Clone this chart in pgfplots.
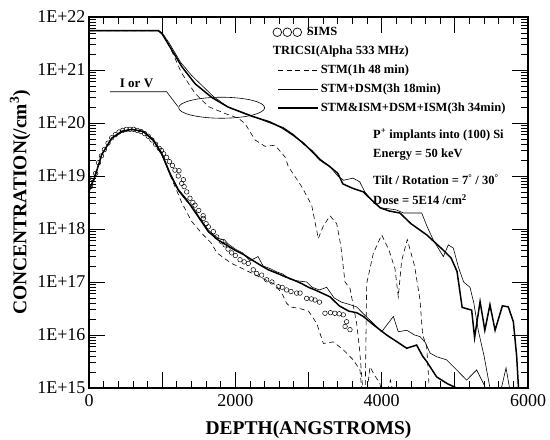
\documentclass[border=0pt]{standalone}
\usepackage{pgfplots}
\pgfplotsset{compat=1.18}
\usepackage{fontspec}
\setmainfont{Liberation Serif}
\pgfplotsset{
 linelegend/.style={legend image code/.code={\path (0pt,0pt) (45pt,0pt); \draw[##1] (5pt,0pt) -- (45pt,0pt);}},
 simslegend/.style={legend image code/.code={\path (0pt,0pt) (45pt,0pt); \draw[black, line width=0.7pt] (4.3pt,0pt) circle[radius=4.3pt] (14.3pt,0pt) circle[radius=4.3pt] (24.3pt,0pt) circle[radius=4.3pt];}},
}
\begin{document}
\begin{tikzpicture}
\begin{axis}[
 name=ax,
 scale only axis, width=439pt, height=371pt,
 xmin=0, xmax=6000, ymode=log, ymin=1e15, ymax=1e22,
 xtick={0,1000,2000,3000,4000,5000,6000},
 xticklabels={0,,2000,,4000,,6000},
 minor x tick num=4,
 ytick={1e15,1e16,1e17,1e18,1e19,1e20,1e21,1e22},
 yticklabels={1E+15,1E+16,1E+17,1E+18,1E+19,1E+20,1E+21,1E+22},
 major tick length=16pt, minor tick length=7pt,
 tick style={black, line width=0.8pt},
 ticklabel style={font=\fontsize{18}{18}\selectfont},
 xticklabel style={yshift=-3pt},
 xlabel={DEPTH(ANGSTROMS)},
 ylabel={CONCENTRATION(/cm\textsuperscript{3})},
 xlabel style={yshift=-7pt},
 label style={font=\fontsize{19.5}{19.5}\selectfont\bfseries},
 axis line style={line width=1.1pt},
 legend cell align=left,
 legend style={draw=none, fill=none, at={(0.417,0.981)}, anchor=north west,
   font=\fontsize{12.5}{14}\selectfont\bfseries, inner sep=0pt, row sep=3pt,
   nodes={text height=9pt, text depth=3pt, inner sep=2pt}},
]
% SIMS
\addplot[only marks, mark=o, mark size=2.3pt, mark options={line width=0.5pt, black}, simslegend]
 coordinates {
(20,6.31e18)(50,8.91e18)(90,1.12e19)(130,1.78e19)(170,2.40e19)(210,3.16e19)
(260,4.17e19)(310,5.25e19)(360,6.03e19)(410,6.76e19)(460,7.24e19)(510,7.59e19)
(560,7.59e19)(610,7.59e19)(660,7.24e19)(710,6.92e19)(760,6.31e19)(810,5.62e19)
(860,4.79e19)(910,3.98e19)(960,3.31e19)(990,3.02e19)(1020,2.63e19)(1060,2.24e19)
(1100,1.86e19)(1140,1.58e19)(1175,1.29e19)(1220,1.00e19)(1230,1.26e19)(1267,7.24e18)
(1290,8.50e18)(1300,6.31e18)(1335,5.01e18)(1380,3.80e18)(1420,3.16e18)(1449,2.82e18)
(1500,2.24e18)(1560,1.78e18)(1563,1.58e18)(1600,1.26e18)(1631,1.10e18)(1700,8.91e17)
(1745,7.08e17)(1813,5.75e17)(1860,5.01e17)(1900,4.17e17)(1950,3.55e17)(2000,3.16e17)
(2064,2.63e17)(2120,2.40e17)(2177,2.24e17)(2245,1.70e17)(2291,1.45e17)(2360,1.35e17)
(2428,1.10e17)(2500,1.00e17)(2588,8.13e16)(2640,7.94e16)(2701,7.08e16)(2760,6.61e16)
(2838,6.17e16)(2884,6.17e16)(2975,4.90e16)(3040,4.79e16)(3089,4.57e16)(3150,4.17e16)
(3225,2.57e16)(3300,2.63e16)(3360,2.57e16)(3420,2.51e16)(3476,2.40e16)(3521,1.78e16)
(3500,1.45e16)(3567,1.26e16)
};
\addlegendentry{\hspace*{-14pt}SIMS}
\addlegendimage{empty legend}
\addlegendentry{\hspace*{-48pt}TRICSI(Alpha 533 MHz)}
% STM dashed
\addplot[black, line width=0.6pt, dash pattern=on 5pt off 3.5pt, linelegend] coordinates {
(0,5.50e21)(950,5.50e21)(1000,5.01e21)(1084,3.16e21)(1267,8.71e20)(1449,3.63e20)
(1631,2.04e20)(1859,1.51e20)(2041,1.23e20)(2132,9.77e19)(2269,4.79e19)(2405,3.63e19)
(2542,3.80e19)(2679,2.29e19)(2724,1.51e19)(2907,6.31e18)(3043,2.82e18)(3134,6.61e17)
(3200,1.12e18)(3294,1.78e18)(3385,1.26e18)(3440,5.01e17)(3499,1.00e17)(3567,7.59e16)
(3658,1.66e16)(3700,5.01e15)(3740,1.00e15)(3770,2.00e14)(3795,9.33e16)(3886,3.47e17)
(4000,7.76e17)(4100,3.98e17)(4182,1.78e17)(4227,5.25e16)(4273,2.51e17)(4350,6.31e17)
(4450,2.00e17)(4524,4.57e16)(4560,1.00e16)(4615,6.03e15)(4650,1.00e15)(4670,1.00e14)
};
\addlegendentry{STM(1h 48 min)}
\addplot[black, line width=0.6pt, dash pattern=on 5pt off 3.5pt, forget plot] coordinates {
(0,5.01e18)(173,2.51e19)(310,5.13e19)(447,6.92e19)(583,7.59e19)(743,6.92e19)
(879,4.79e19)(993,2.69e19)(1107,1.05e19)(1200,5.25e18)(1267,3.16e18)(1400,1.41e18)
(1540,8.32e17)(1667,5.50e17)(1750,3.55e17)(1845,2.82e17)(1950,2.24e17)(2100,1.78e17)
(2250,1.41e17)(2400,1.12e17)(2550,8.91e16)(2650,5.62e16)(2700,3.98e16)(2750,3.39e16)
(2880,3.16e16)(3000,2.82e16)(3112,1.66e16)(3203,6.92e15)(3339,7.41e15)(3476,5.25e15)
(3612,3.39e15)(3703,2.19e15)(3726,1.00e15)(3740,3.16e14)
};
\addplot[black, line width=0.6pt, dash pattern=on 5pt off 3.5pt, forget plot] coordinates {
(3790,6.31e14)(3840,2.51e15)(3900,1.78e15)(3977,1.20e15)(4000,7.94e14)
};
\addplot[black, line width=0.6pt, dash pattern=on 5pt off 3.5pt, forget plot] coordinates {
(4080,8.91e14)(4120,1.41e15)(4150,8.91e14)
};
% STM+DSM thin
\addplot[black, line width=0.6pt, linelegend] coordinates {
(0,5.50e21)(950,5.50e21)(1000,5.01e21)(1100,3.16e21)(1250,1.41e21)(1400,7.94e20)
(1550,5.01e20)(1700,3.16e20)(1900,2.00e20)(2220,1.38e20)(2470,1.00e20)(2650,8.32e19)
(2800,6.03e19)(2930,3.98e19)(3050,3.02e19)(3160,2.09e19)(3290,1.51e19)(3400,1.00e19)
(3480,8.32e18)(3610,9.12e18)(3700,7.76e18)(3770,5.01e18)(3860,3.55e18)(3980,2.51e18)
(4100,2.40e18)(4200,2.29e18)(4300,2.00e18)(4433,2.00e18)(4547,2.00e18)(4620,1.12e18)
(4706,6.17e17)(4843,3.02e17)(4911,5.01e17)(4979,4.37e17)(5047,1.95e17)(5120,1.00e17)
(5207,7.94e16)(5260,3.98e16)(5320,1.23e16)(5400,3.98e15)(5480,1.00e15)(5500,3.16e14)
};
\addlegendentry{STM+DSM(3h 18min)}
\addplot[black, line width=0.6pt, forget plot] coordinates {
(0,5.25e18)(82,1.00e19)(173,2.51e19)(310,5.25e19)(447,7.08e19)(583,7.59e19)
(743,6.76e19)(879,4.57e19)(993,2.51e19)(1107,1.05e19)(1221,5.25e18)(1335,3.31e18)
(1430,2.51e18)(1494,1.78e18)(1631,9.55e17)(1767,6.61e17)(1850,6.31e17)(1900,5.25e17)
(2000,4.17e17)(2100,3.55e17)(2200,2.51e17)(2310,3.02e17)(2380,2.00e17)(2480,1.78e17)
(2565,1.55e17)(2650,1.41e17)(2750,1.12e17)(2850,1.05e17)(2975,1.00e17)(3050,7.94e16)
(3150,7.08e16)(3248,7.94e16)(3350,5.01e16)(3450,4.17e16)(3550,3.80e16)(3658,3.39e16)
(3750,2.51e16)(3840,1.91e16)(4000,1.15e16)(4160,2.24e16)(4227,1.15e16)(4342,1.23e16)
(4450,1.00e16)(4524,9.33e15)(4600,7.08e15)(4660,4.57e15)(4751,3.89e15)(4888,3.39e15)
(5025,2.19e15)(5161,1.41e15)(5298,2.19e15)(5389,1.23e15)(5450,7.94e14)
};
\addplot[black, line width=0.6pt, forget plot] coordinates {
(5620,7.94e14)(5700,2.40e15)(5760,7.94e14)
};
% STM&ISM+DSM+ISM thick
\addplot[black, line width=1.5pt, linelegend] coordinates {
(0,5.50e21)(950,5.50e21)(1000,4.79e21)(1100,2.82e21)(1270,1.15e21)(1450,5.50e20)
(1680,3.02e20)(1900,2.00e20)(2220,1.35e20)(2470,1.05e20)(2650,7.94e19)(2800,5.75e19)
(2930,4.17e19)(3050,2.88e19)(3160,2.00e19)(3290,1.51e19)(3400,1.12e19)(3470,7.08e18)
(3600,5.89e18)(3750,5.01e18)(3860,3.55e18)(3980,2.51e18)(4100,2.19e18)(4250,2.00e18)
(4400,1.26e18)(4615,7.76e17)(4843,3.98e17)(4950,2.82e17)(5030,1.58e17)(5100,3.31e16)
(5230,2.95e16)(5270,8.91e15)(5345,4.27e16)(5410,1.23e16)(5480,3.72e16)(5550,1.23e16)
(5650,3.55e16)(5730,3.39e16)(5800,1.78e16)(5845,3.98e15)(5870,1.00e15)(5880,3.16e14)
};
\addlegendentry{STM\&ISM+DSM+ISM(3h 34min)}
\addplot[black, line width=1.5pt, forget plot] coordinates {
(0,5.01e18)(14,5.89e18)(82,9.77e18)(173,2.51e19)(310,5.13e19)(447,6.92e19)
(583,7.59e19)(743,6.92e19)(879,4.79e19)(993,2.69e19)(1107,1.12e19)(1221,5.50e18)
(1335,3.55e18)(1494,1.70e18)(1631,8.91e17)(1767,6.17e17)(1900,4.79e17)(1995,3.98e17)
(2110,3.31e17)(2223,2.63e17)(2340,2.09e17)(2451,1.70e17)(2560,1.48e17)(2679,1.26e17)
(2790,1.10e17)(2907,9.33e16)(3000,7.94e16)(3089,7.08e16)(3200,6.03e16)(3294,5.25e16)
(3420,3.55e16)(3550,2.82e16)(3660,2.63e16)(3749,2.24e16)(3900,1.51e16)(4068,1.00e16)
(4200,7.59e15)(4342,5.62e15)(4478,6.46e15)(4560,3.98e15)(4615,3.16e15)(4751,1.62e15)
(4900,1.20e15)(5025,1.00e15)(5100,7.94e14)
};
% annotations
\draw[line width=0.6pt] (axis cs:287,3.89e20) -- (axis cs:1061,3.89e20) -- (axis cs:1215,2.04e20);
\draw[line width=0.6pt] (axis cs:1813,1.94e20) ellipse [x radius=43pt, y radius=10.5pt];
\node[font=\fontsize{13}{13}\selectfont\bfseries, anchor=base] at (axis cs:650,4.6e20) {I or V};
\begin{scope}[every node/.style={anchor=west, inner sep=0pt, font=\fontsize{12.5}{12.5}\selectfont\bfseries}]
\node at (rel axis cs:0.647,0.682) {P\textsuperscript{+} implants into (100) Si};
\node at (rel axis cs:0.647,0.628) {Energy = 50 keV};
\node at (rel axis cs:0.647,0.561) {Tilt / Rotation = 7\textsuperscript{°} / 30\textsuperscript{°}};
\node at (rel axis cs:0.647,0.507) {Dose = 5E14 /cm\textsuperscript{2}};
\end{scope}
\end{axis}
% tick marks on the axis frame (inward, all four sides)
\begin{scope}[shift={(ax.south west)}, line width=0.8pt, black]
\foreach \i in {1,...,29} {
  \pgfmathtruncatemacro\r{mod(\i,5)}
  \ifnum\r=0 \def\len{16}\else\def\len{7}\fi
  \draw (\i*14.6333pt,0pt) -- ++(0pt,\len pt);
  \draw (\i*14.6333pt,371pt) -- ++(0pt,-\len pt);
}
\foreach \d in {1,...,6} {
  \draw (0pt,\d*53pt) -- ++(16pt,0pt);
  \draw (439pt,\d*53pt) -- ++(-16pt,0pt);
}
\foreach \d in {0,...,6} {
  \foreach \m in {2,...,9} {
    \pgfmathsetmacro\yy{(\d+ln(\m)/ln(10))*53}
    \draw (0pt,\yy pt) -- ++(7pt,0pt);
    \draw (439pt,\yy pt) -- ++(-7pt,0pt);
  }
}
\end{scope}
\pgfresetboundingbox
\path[use as bounding box] ([shift={(-89pt,-51pt)}]ax.south west) rectangle ([shift={(22pt,17pt)}]ax.north east);
\end{tikzpicture}
\end{document}
